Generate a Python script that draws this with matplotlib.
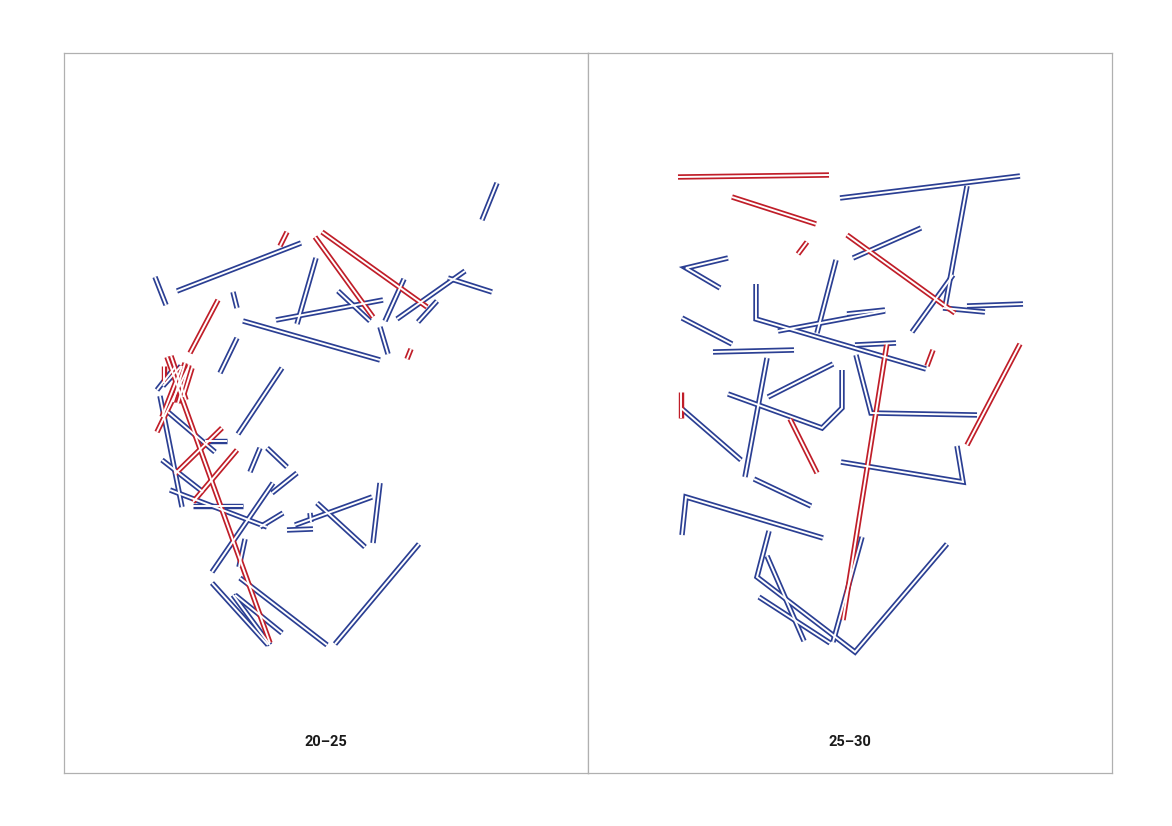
import matplotlib
matplotlib.use("Agg")
import matplotlib.pyplot as plt

W, H = 1172, 826

BLUE = "#2b3f93"
RED = "#c01e29"
FRAME = "#b0b0b0"

panel_labels = ["20\u201325", "25\u201330"]

# paths in pixel-like coordinates of the sheet (x right, y down)
left_blue = [
    [(497, 183), (482, 220)],
    [(177, 291), (301, 243)],
    [(155, 277), (166, 305)],
    [(297, 324), (316, 258)],
    [(276, 320), (383, 300)],
    [(338, 291), (370, 321)],
    [(385, 321), (404, 279)],
    [(397, 319), (465, 271)],
    [(448, 278), (492, 292)],
    [(418, 322), (437, 301)],
    [(380, 327), (388, 354)],
    [(243, 321), (380, 360)],
    [(233, 292), (237, 308)],
    [(220, 373), (237, 338)],
    [(238, 434), (282, 368)],
    [(157, 390), (175, 367)],
    [(163, 386), (181, 366)],
    [(160, 396), (182, 507)],
    [(168, 412), (215, 452)],
    [(205, 441), (227, 441)],
    [(162, 460), (203, 492)],
    [(170, 490), (267, 527)],
    [(193, 506), (243, 506)],
    [(250, 472), (260, 448)],
    [(267, 448), (287, 467)],
    [(272, 493), (297, 473)],
    [(212, 572), (273, 483)],
    [(260, 527), (283, 513)],
    [(287, 530), (313, 529)],
    [(295, 525), (372, 497)],
    [(317, 503), (365, 547)],
    [(380, 483), (373, 543)],
    [(310, 513), (311, 522)],
    [(245, 539), (239, 567)],
    [(212, 583), (268, 645)],
    [(233, 595), (270, 645)],
    [(235, 595), (282, 633)],
    [(240, 578), (327, 645)],
    [(335, 644), (419, 544)],
]

left_red = [
    [(287, 232), (280, 246)],
    [(315, 237), (373, 317)],
    [(322, 232), (427, 307)],
    [(407, 359), (411, 349)],
    [(190, 353), (218, 300)],
    [(167, 357), (270, 643)],
    [(171, 356), (186, 400)],
    [(157, 432), (188, 368)],
    [(162, 417), (182, 366)],
    [(173, 402), (185, 363)],
    [(178, 403), (189, 365)],
    [(183, 397), (192, 368)],
    [(164, 366), (164, 383)],
    [(222, 428), (175, 474)],
    [(237, 450), (193, 502)],
]

right_blue = [
    [(840, 198), (1020, 176)],
    [(967, 186), (945, 307)],
    [(853, 258), (921, 228)],
    [(728, 258), (686, 268), (720, 288)],
    [(836, 260), (817, 333)],
    [(756, 284), (756, 319), (926, 369)],
    [(778, 331), (885, 311)],
    [(847, 314), (885, 310)],
    [(953, 275), (912, 332)],
    [(943, 308), (985, 312)],
    [(967, 306), (1023, 304)],
    [(682, 318), (732, 344)],
    [(713, 352), (794, 350)],
    [(855, 345), (896, 343)],
    [(767, 358), (745, 477)],
    [(768, 397), (833, 364)],
    [(842, 370), (842, 408), (822, 428), (728, 394)],
    [(681, 408), (741, 460)],
    [(856, 355), (871, 413), (977, 415)],
    [(841, 462), (963, 482), (957, 446)],
    [(754, 479), (811, 506)],
    [(682, 535), (686, 497), (823, 538)],
    [(769, 531), (757, 577), (855, 652), (947, 544)],
    [(767, 556), (804, 641)],
    [(759, 597), (830, 643)],
    [(862, 537), (833, 642)],
]

right_red = [
    [(678, 177), (829, 175)],
    [(732, 197), (816, 224)],
    [(807, 242), (798, 254)],
    [(847, 235), (955, 313)],
    [(887, 343), (843, 620)],
    [(933, 350), (927, 366)],
    [(1020, 344), (967, 445)],
    [(681, 392), (681, 418)],
    [(790, 419), (817, 473)],
]

panels = [
    {"x0": 64, "x1": 588, "paths": [(left_blue, BLUE), (left_red, RED)]},
    {"x0": 588, "x1": 1112, "paths": [(right_blue, BLUE), (right_red, RED)]},
]
Y0, Y1 = 53, 773


def draw_casing(ax, paths, color):
    for path in paths:
        xs = [p[0] for p in path]
        ys = [p[1] for p in path]
        ax.plot(xs, ys, color=color, lw=3.9, solid_capstyle="butt",
                solid_joinstyle="miter", zorder=2)


def draw_inner(ax, paths):
    for path in paths:
        xs = [p[0] for p in path]
        ys = [p[1] for p in path]
        ax.plot(xs, ys, color="white", lw=1.4, solid_capstyle="butt",
                solid_joinstyle="miter", zorder=3)


fig = plt.figure(figsize=(W / 100, H / 100), dpi=100)
fig.patch.set_facecolor("white")

for panel, label in zip(panels, panel_labels):
    x0, x1 = panel["x0"], panel["x1"]
    ax = fig.add_axes([x0 / W, (H - Y1) / H, (x1 - x0) / W, (Y1 - Y0) / H])
    ax.set_xlim(x0, x1)
    ax.set_ylim(Y1, Y0)
    ax.set_xticks([])
    ax.set_yticks([])
    for s in ax.spines.values():
        s.set_color(FRAME)
        s.set_linewidth(0.9)
    for paths, color in panel["paths"]:
        draw_casing(ax, paths, color)
    for paths, color in panel["paths"]:
        draw_inner(ax, paths)
    ax.text((x0 + x1) / 2, 742, label, ha="center", va="center",
            fontsize=10.5, fontweight="bold", family=["Roboto", "DejaVu Sans"],
            color="#1a1a1a")

fig.savefig("out.png", dpi=100, facecolor="white")
